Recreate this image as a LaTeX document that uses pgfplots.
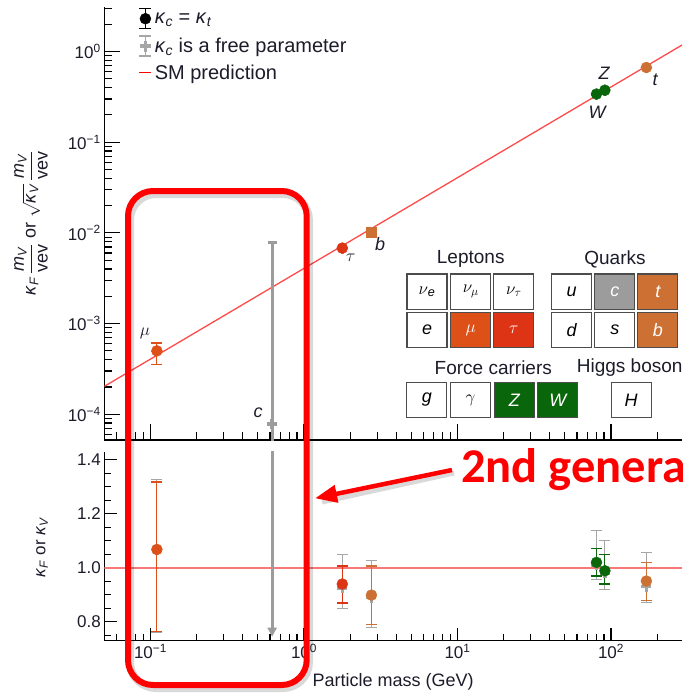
\documentclass[border=0pt]{standalone}
\usepackage{pgfplots}
\pgfplotsset{compat=1.18}
\usepackage{fontspec}
\setmainfont{Liberation Sans}
\newfontfamily\calibri{Carlito}
\usetikzlibrary{arrows.meta}

\definecolor{cmu}{HTML}{DD5119}
\definecolor{ctau}{HTML}{DC3414}
\definecolor{cq}{HTML}{CD7034}
\definecolor{cv}{HTML}{0A660A}
\definecolor{cfree}{HTML}{A6A6A6}
\definecolor{ccharm}{HTML}{9C9C9C}
\definecolor{csm}{HTML}{FF4A4A}
\definecolor{csmlow}{HTML}{F87878}
\definecolor{txt}{HTML}{1C1C2A}
\definecolor{annot}{HTML}{FF0000}

\newcommand{\fsL}{\fontsize{20}{24}\selectfont}
\newcommand{\fsT}{\fontsize{19}{22.8}\selectfont}
\newcommand{\fsA}{\fontsize{18}{21.6}\selectfont}
\newcommand{\fsB}{\fontsize{17}{20.4}\selectfont}
\newcommand{\fsC}{\fontsize{16}{19.2}\selectfont}

% one cell of the particle table: x, y (centre), fill, text colour, symbol
\newcommand{\partbox}[5]{\node[draw=black!70, line width=1.2pt, fill=#3, text=#4,
  minimum width=40pt, minimum height=35.5pt, inner sep=0pt, font=\fsA\itshape]
  at (#1pt,-#2pt) {#5};}

\pgfplotsset{
  kerr/.style={only marks, mark=*, mark size=5.5pt, color=#1,
    mark options={draw=none, fill=#1},
    error bars/y dir=both, error bars/y explicit,
    error bars/error bar style={line width=1.2pt, #1},
    error bars/error mark options={rotate=90, mark size=5.5pt, line width=1.2pt, #1}},
  kfree/.style={only marks, mark=+, mark size=5pt, color=cfree,
    mark options={line width=3.5pt, cfree},
    error bars/y dir=both, error bars/y explicit,
    error bars/error bar style={line width=1.2pt, cfree},
    error bars/error mark options={rotate=90, mark size=5.5pt, line width=1.2pt, cfree}},
}

\begin{document}
\begin{tikzpicture}

% ---------------- upper panel: coupling times mass over vev ----------------
\begin{axis}[scale only axis, width=577.7pt, height=433pt,
  at={(104.3pt,-440pt)}, anchor=south west,
  xmode=log, ymode=log, xmin=0.05, xmax=290, ymin=5.2e-5, ymax=3.1,
  axis x line*=bottom, axis y line*=left,
  axis line style={line width=1.3pt, black},
  tick style={line width=1.1pt, black},
  tick align=inside,
  tick label style={font=\fsB, text=txt},
  xtick={0.1,1,10,100},
  minor xtick={0.06,0.07,0.08,0.09,0.2,0.3,0.4,0.5,0.6,0.7,0.8,0.9,2,3,4,5,6,7,8,9,20,30,40,50,60,70,80,90,200},
  xticklabels={},
  ytick={1e-4,1e-3,1e-2,1e-1,1},
  yticklabels={10\textsuperscript{−4},10\textsuperscript{−3},10\textsuperscript{−2},10\textsuperscript{−1},10\textsuperscript{0}},
  minor ytick={6e-5,7e-5,8e-5,9e-5,2e-4,3e-4,4e-4,5e-4,6e-4,7e-4,8e-4,9e-4,
    2e-3,3e-3,4e-3,5e-3,6e-3,7e-3,8e-3,9e-3,0.02,0.03,0.04,0.05,0.06,0.07,0.08,0.09,
    0.2,0.3,0.4,0.5,0.6,0.7,0.8,0.9,2,3},
  major tick length=16pt, minor tick length=8pt,
  legend cell align=left,
  legend style={at={(0.058,0.998)}, anchor=north west, draw=none, fill=none,
    font=\fsL, text=txt, row sep=6pt, inner sep=0pt}]

% SM prediction
\addplot[csm, line width=1.3pt, forget plot] coordinates {(0.05,2.03e-4) (290,1.18)};

% kappa_c free
\addplot[kfree, forget plot] table[x=x, y=y, y error plus=ep, y error minus=em] {
x      y        ep       em
0.11   4.95e-4  0        0
1.776  6.7e-3   0        0
2.75   1.0e-2   0        0
80.4   0.335    0        0
91.2   0.372    0        0
170    0.66     0        0
};
\addplot[kfree, forget plot,
  error bars/error bar style={line width=3pt, ccharm},
  error bars/error mark options={rotate=90, mark size=4.5pt, line width=2.5pt, ccharm},
  mark options={line width=3.5pt, ccharm}]
  table[x=x, y=y, y error plus=ep, y error minus=em] {
x      y        ep       em
0.62   7.8e-5   7.72e-3  7.79e-5
};

% kappa_c = kappa_t
\addplot[kerr=cmu, forget plot] table[x=x, y=y, y error plus=ep, y error minus=em] {
x      y        ep       em
0.11   5.0e-4   1.1e-4   1.45e-4
};
\addplot[kerr=ctau, forget plot] table[x=x, y=y, y error plus=ep, y error minus=em] {
x      y        ep       em
1.776  6.8e-3   0        0
};
\addplot[kerr=cq, mark=square*, mark size=5pt, forget plot] table[x=x, y=y, y error plus=ep, y error minus=em] {
x      y        ep       em
2.75   1.03e-2  0        0
};
\addplot[kerr=cq, forget plot] table[x=x, y=y, y error plus=ep, y error minus=em] {
x      y        ep       em
170    0.667    0        0
};
\addplot[kerr=cv, forget plot] table[x=x, y=y, y error plus=ep, y error minus=em] {
x      y        ep       em
80.4   0.34     0        0
91.2   0.375    0        0
};

\addlegendimage{legend image code/.code={
  \draw[black, line width=1.3pt] (6pt,-10pt)--(6pt,10pt) (0pt,-10pt)--(12pt,-10pt) (0pt,10pt)--(12pt,10pt);
  \fill[black] (6pt,0pt) circle (5.5pt);}}
\addlegendentry{\textit{κ}\textsubscript{\textit{c}} = \textit{κ}\textsubscript{\textit{t}}}
\addlegendimage{legend image code/.code={
  \draw[cfree, line width=1.3pt] (6pt,-10pt)--(6pt,10pt) (0pt,-10pt)--(12pt,-10pt) (0pt,10pt)--(12pt,10pt);
  \draw[cfree, line width=3.8pt] (0.5pt,0pt)--(11.5pt,0pt) (6pt,-5.5pt)--(6pt,5.5pt);}}
\addlegendentry{\textit{κ}\textsubscript{\textit{c}} is a free parameter}
\addlegendimage{legend image code/.code={
  \draw[red, line width=1.6pt] (0pt,0pt)--(12pt,0pt);}}
\addlegendentry{SM prediction}
\end{axis}

% ---------------- lower panel: coupling modifiers ----------------
\begin{axis}[scale only axis, width=577.7pt, height=189pt,
  at={(104.3pt,-640.7pt)}, anchor=south west,
  xmode=log, xmin=0.05, xmax=290, ymin=0.73, ymax=1.43,
  axis x line*=bottom, axis y line*=left,
  axis line style={line width=1.3pt, black},
  tick style={line width=1.1pt, black},
  tick align=inside,
  tick label style={font=\fsB, text=txt},
  xtick={0.1,1,10,100},
  minor xtick={0.06,0.07,0.08,0.09,0.2,0.3,0.4,0.5,0.6,0.7,0.8,0.9,2,3,4,5,6,7,8,9,20,30,40,50,60,70,80,90,200},
  xticklabels={10\textsuperscript{−1},10\textsuperscript{0},10\textsuperscript{1},10\textsuperscript{2}},
  ytick={0.8,1.0,1.2,1.4}, yticklabels={0.8,1.0,1.2,1.4},
  minor ytick={0.75,0.85,0.9,0.95,1.05,1.1,1.15,1.25,1.3,1.35},
  major tick length=13pt, minor tick length=7pt,
  xlabel={Particle mass (GeV)}, xlabel style={font=\fsA, text=txt, yshift=-8pt}]

\addplot[csmlow, line width=2pt] coordinates {(0.05,1) (290,1)};

% charm: central value below the range
\addplot[ccharm, line width=3pt, -{Triangle[length=9pt, width=9pt]}] coordinates {(0.62,1.5) (0.62,0.745)};

\addplot[kfree] table[x=x, y=y, y error plus=ep, y error minus=em] {
x      y       ep      em
0.11   1.065   0.262   0.305
1.776  0.925   0.125   0.075
2.75   0.89    0.138   0.11
80.4   1.01    0.128   0.052
91.2   0.98    0.12    0.06
170    0.93    0.127   0.058
};

\addplot[kerr=cmu] table[x=x, y=y, y error plus=ep, y error minus=em] {
x      y       ep      em
0.11   1.068   0.25    0.305
};
\addplot[kerr=ctau] table[x=x, y=y, y error plus=ep, y error minus=em] {
x      y       ep      em
1.776  0.94    0.067   0.07
};
\addplot[kerr=cq] table[x=x, y=y, y error plus=ep, y error minus=em] {
x      y       ep      em
2.75   0.899   0.108   0.109
170    0.951   0.069   0.073
};
\addplot[kerr=cv] table[x=x, y=y, y error plus=ep, y error minus=em] {
x      y       ep      em
80.4   1.02    0.052   0.05
91.2   0.989   0.061   0.049
};
\end{axis}

% axis titles
\node[rotate=90, font=\fsA, text=txt, inner sep=0pt] at (31pt,-223pt)
  {\textit{κ}\textsubscript{\textit{F}}\,$\displaystyle\frac{\mbox{\textit{m}\textsubscript{\textit{V}}}}{\mbox{vev}}$ or $\sqrt{\mbox{\textit{κ}\textsubscript{\textit{V}}}}\,\displaystyle\frac{\mbox{\textit{m}\textsubscript{\textit{V}}}}{\mbox{vev}}$};
\node[rotate=90, font=\fsB, text=txt, inner sep=0pt] at (42pt,-547pt)
  {\textit{κ}\textsubscript{\textit{F}} or \textit{κ}\textsubscript{\textit{V}}};

% particle names beside the points
\node[font=\fsC, text=txt] at (145pt,-333pt) {$\mu$};
\node[font=\fsC, text=txt] at (350.7pt,-258pt) {$\tau$};
\node[font=\fsA\itshape, text=txt] at (380pt,-244pt) {b};
\node[font=\fsA\itshape, text=txt] at (258pt,-413pt) {c};
\node[font=\fsA\itshape, text=txt] at (597pt,-112pt) {W};
\node[font=\fsA\itshape, text=txt] at (604pt,-73pt) {Z};
\node[font=\fsA\itshape, text=txt] at (655pt,-80pt) {t};

% particle table
\node[font=\fsT, text=txt] at (470.7pt,-259.3pt) {Leptons};
\node[font=\fsT, text=txt] at (615pt,-259.3pt) {Quarks};
\node[font=\fsT, text=txt] at (493.3pt,-367.3pt) {Force carriers};
\node[font=\fsT, text=txt, anchor=west, inner sep=0pt] at (576.7pt,-367.3pt) {Higgs boson};
\partbox{427}{291.7}{white}{black}{$\nu$\textsubscript{e}}
\partbox{470.8}{291.7}{white}{black}{$\nu_{\mu}$}
\partbox{513.8}{291.7}{white}{black}{$\nu_{\tau}$}
\partbox{571.5}{291.7}{white}{black}{u}
\partbox{614.8}{291.7}{ccharm}{white}{c}
\partbox{657.8}{291.7}{cq}{white}{t}
\partbox{427}{330}{white}{black}{e}
\partbox{470.8}{330}{cmu}{white}{$\mu$}
\partbox{513.8}{330}{ctau}{white}{$\tau$}
\partbox{571.5}{330}{white}{black}{d}
\partbox{614.8}{330}{white}{black}{s}
\partbox{657.8}{330}{cq}{white}{b}
\partbox{426.8}{400}{white}{black}{g}
\partbox{470.5}{400}{white}{black}{$\gamma$}
\partbox{514.3}{400}{cv}{white}{Z}
\partbox{557.8}{400}{cv}{white}{W}
\partbox{631.2}{400}{white}{black}{H}

% highlight of the second generation
\draw[black, opacity=0.15, line width=8pt, rounded corners=26pt] (130pt,-194pt) rectangle (309pt,-688pt);
\draw[annot, line width=6pt, rounded corners=25pt] (128pt,-191pt) rectangle (306.7pt,-685pt);
\draw[black, opacity=0.15, line width=5pt] (454pt,-473pt) -- (322pt,-502pt);
\draw[annot, line width=4.5pt, -{Triangle[length=22pt, width=17pt]}] (452pt,-470pt) -- (315pt,-498.3pt);
\node[anchor=base west, inner sep=0pt, text=annot, font=\calibri\bfseries\fontsize{48.5}{52}\selectfont] at (461pt,-482.7pt) {2nd generation};

\pgfresetboundingbox
\path[use as bounding box] (0pt,0pt) rectangle (682pt,-695pt);
\end{tikzpicture}
\end{document}
